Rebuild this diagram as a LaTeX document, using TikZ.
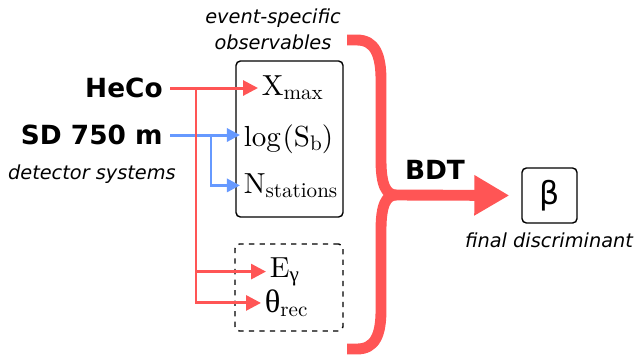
\documentclass[tikz,border=0pt]{standalone}
\usepackage{fontspec}
\usetikzlibrary{arrows.meta}
\newfontfamily\dvsans{DejaVu Sans}
\newfontfamily\grkserif{Liberation Serif}
\newfontfamily\obsfont{lmroman10-regular}[Extension=.otf]
\definecolor{hecored}{RGB}{255,85,85}
\definecolor{sdblue}{RGB}{102,153,255}
\newcommand{\lowsub}[1]{\raisebox{-0.35ex}{\fontsize{12}{14}\selectfont #1}}

\begin{document}
\begin{tikzpicture}[x=0.02cm, y=-0.02cm,
    sysname/.style={font=\dvsans\bfseries\fontsize{15}{18}\selectfont, anchor=east, inner sep=4pt},
    caption/.style={font=\dvsans\itshape\fontsize{11}{14.7}\selectfont, align=center},
    obs/.style={font=\obsfont\fontsize{16.5}{19}\selectfont, anchor=base west, inner sep=2pt},
    obsbox/.style={draw, rounded corners=2.5pt, line width=0.8pt},
    redarrow/.style={draw=hecored, line width=1.7pt, -{Triangle[length=8.5pt,width=8.5pt]}},
    bluearrow/.style={draw=sdblue, line width=1.7pt, -{Triangle[length=7.5pt,width=7.5pt]}},
    brace/.style={draw=hecored, line width=6.2pt, line join=round}]
  \useasboundingbox (0,0) rectangle (635,356);

  % detector systems
  \node[sysname] (heco) at (170,88) {HeCo};
  \node[sysname] (sd) at (170,135) {SD 750 m};
  \node[caption, anchor=east] (detsys) at (182,174) {detector systems};

  % observables
  \node[caption] (evobs) at (273,29) {event-specific\\observables};
  \node[obsbox, minimum width=2.14cm, minimum height=3.12cm] (evbox) at (289.5,139) {};
  \node[obsbox, dashed, minimum width=2.16cm, minimum height=1.74cm] (recbox) at (289,287.5) {};
  \node[obs] (xmax) at (258,95) {X\lowsub{max}};
  \node[obs] (logsb) at (240,146) {log\hspace{1pt}(S\lowsub{b})};
  \node[obs] (nst) at (240,193) {N\lowsub{stations}};
  \node[obs] (egam) at (266,277) {E\lowsub{\grkserif γ}};
  \node[obs] (theta) at (261,312) {{\grkserif\fontsize{18.5}{20}\selectfont θ}\lowsub{rec}};

  % connectors
  \coordinate (bsplit) at (211,135);
  \coordinate (rsplit) at (196,88);
  \draw[bluearrow] (sd.east) -- (sd.east -| logsb.west);
  \draw[bluearrow] (bsplit) |- (nst.west);
  \draw[redarrow] (heco.east) -- (heco.east -| xmax.west);
  \draw[redarrow] (rsplit) |- (egam.west);
  \draw[redarrow] (rsplit) |- (theta.west);

  % brace and BDT
  \coordinate (btop) at (347,40);
  \coordinate (bbot) at (347,349);
  \coordinate (btip) at (396,195);
  \draw[brace] (btop) -- (357,40) .. controls (375,40) and (381,55) .. (381,80)
    -- (381,160) .. controls (381,185) and (386,195) .. (btip);
  \draw[brace] (bbot) -- (357,349) .. controls (375,349) and (381,335) .. (381,310)
    -- (381,230) .. controls (381,205) and (386,195) .. (btip);
  \node[draw, rounded corners=2.5pt, line width=0.8pt, minimum size=1.1cm,
    font=\dvsans\fontsize{18}{20}\selectfont] (beta) at (549.5,195.5) {β};
  \draw[draw=hecored, line width=6.2pt, shorten >=0.24cm,
    -{Triangle[length=0.7cm,width=0.76cm]}] (btip) -- (beta.west);
  \node[font=\dvsans\bfseries\fontsize{15}{18}\selectfont] (bdt) at (435,170) {BDT};
  \node[caption] (final) at (549,240) {final discriminant};
\end{tikzpicture}
\end{document}
